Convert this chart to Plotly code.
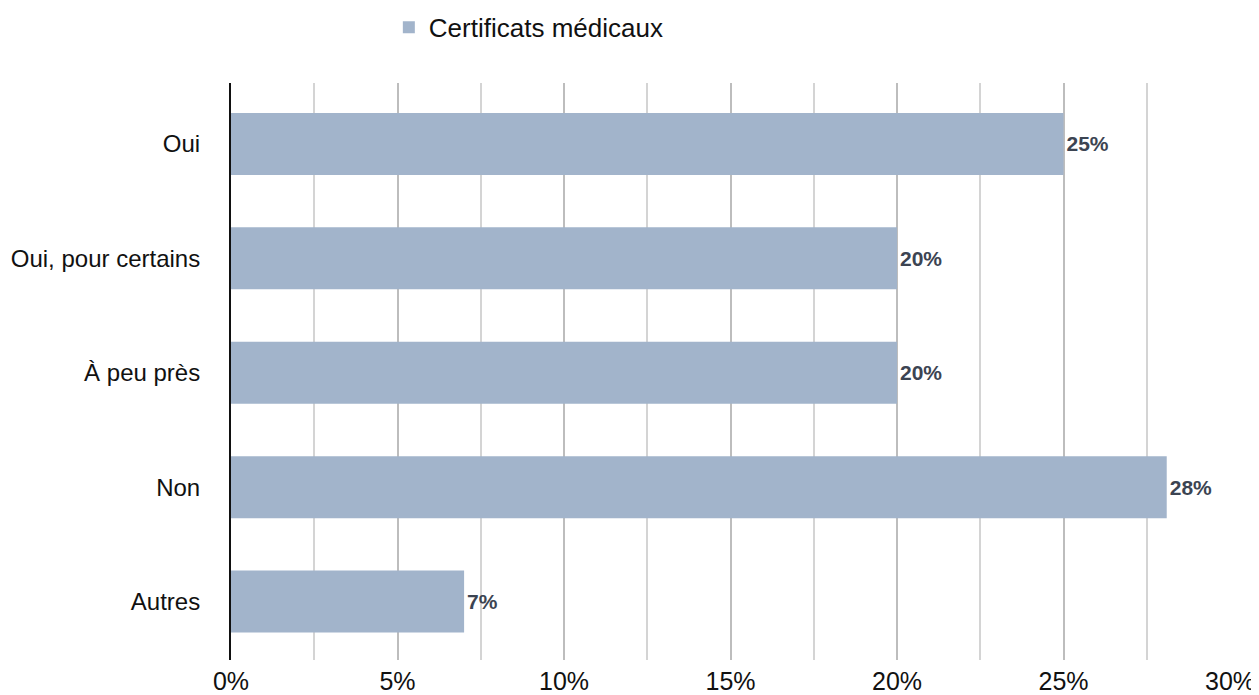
import plotly.graph_objects as go

categories = ["Oui", "Oui, pour certains", "À peu près", "Non", "Autres"]
values = [25.0, 20.0, 20.0, 28.1, 7.0]
series_name = "Certificats médicaux"
x_ticks = [0, 5, 10, 15, 20, 25, 30]
x_tick_labels = ["0%", "5%", "10%", "15%", "20%", "25%", "30%"]

FONT = "Liberation Sans Narrow, Arial Narrow, Liberation Sans, Arial, sans-serif"

fig = go.Figure()
fig.add_trace(go.Bar(
    x=values,
    y=categories,
    orientation="h",
    name=series_name,
    marker=dict(color="#a2b4cb", line=dict(width=0)),
    texttemplate="%{x:.0f}%",
    textposition="outside",
    textfont=dict(family=FONT, size=21, color="#3c4452", weight="bold"),
    cliponaxis=False,
))

# page body has an 8px default margin, so the figure is sized to fit inside the window
fig.update_layout(
    width=1251,
    height=687,
    margin=dict(l=223, r=29, t=75, b=35, autoexpand=False),
    paper_bgcolor="white",
    plot_bgcolor="white",
    font=dict(family=FONT, size=24, color="#111111"),
    bargap=0.458,
    showlegend=True,
    legend=dict(
        orientation="h",
        x=0.158, xanchor="left",
        y=1.137, yanchor="top",
        yref="paper",
        font=dict(family=FONT, size=26, color="#111111"),
    ),
    xaxis=dict(
        range=[0, 30],
        tickvals=x_ticks,
        ticktext=x_tick_labels,
        showgrid=True,
        gridcolor="#bdbdbd",
        gridwidth=2,
        minor=dict(dtick=2.5, tick0=0, showgrid=True, gridcolor="#d4d4d4", gridwidth=1.5),
        zeroline=False,
        showline=False,
        ticks="",
        ticklabelstandoff=4,
        tickfont=dict(size=25, color="#111111"),
        automargin=False,
        fixedrange=True,
    ),
    yaxis=dict(
        categoryorder="array",
        categoryarray=categories,
        range=[4.511, -0.533],
        showline=True,
        linecolor="#111111",
        linewidth=2,
        showgrid=False,
        ticks="",
        ticklabelstandoff=24,
        tickfont=dict(size=24, color="#111111"),
        automargin=False,
        fixedrange=True,
    ),
)

fig.write_html("out.html")
